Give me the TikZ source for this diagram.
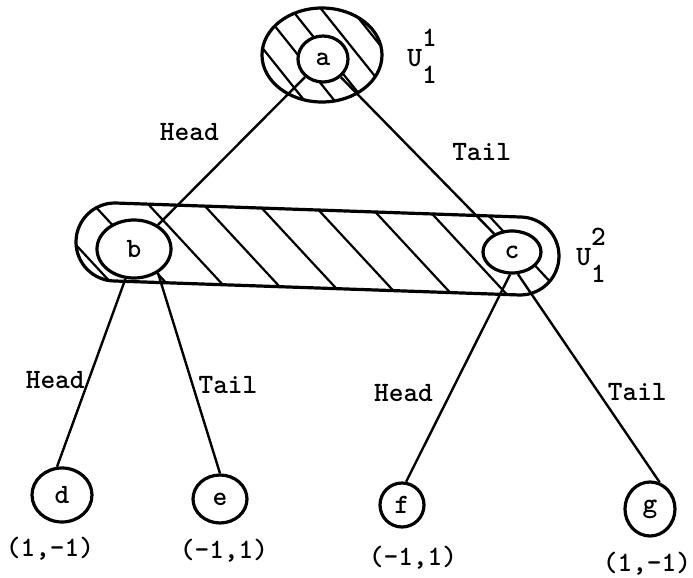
\documentclass[tikz,border=0pt]{standalone}
\usepackage{tikz}
\usetikzlibrary{shapes.geometric,positioning}
\newcommand{\usym}[2]{U\rlap{\raisebox{0.72em}{#1}}\raisebox{-0.6em}{#2}}
\newcommand{\bandshape}{(115,203) -- (520,217) arc[start angle=90, end angle=-90, radius=19.5pt] -- (115,281) arc[start angle=270, end angle=90, radius=19.5pt] -- cycle}
\begin{document}
\begin{tikzpicture}[
  x=0.5pt, y=-0.5pt,
  font=\ttfamily\bfseries\fontsize{14}{16}\selectfont,
  vtx/.style={ellipse, draw, line width=1.6pt, fill=white, inner sep=0pt},
  grp/.style={line width=1.6pt},
  hatch/.style={line width=1.1pt},
  link/.style={line width=1.2pt}
]
\useasboundingbox (0,0) rectangle (693,578);
% hatched set around a
\begin{scope}
  \clip (322,55) ellipse [x radius=30pt, y radius=23.5pt];
  \foreach \x in {238,268,...,438} \draw[hatch] (\x-56,-15) -- (\x+56,125);
\end{scope}
\draw[grp] (322,55) ellipse [x radius=30pt, y radius=23.5pt];
% hatched band around b and c
\begin{scope}
  \clip \bandshape;
  \foreach \x in {25,80,...,465} \draw[hatch] (\x,190) -- ++(102,110);
\end{scope}
\draw[grp] \bandshape;
% vertices
\node[vtx, minimum width=25pt, minimum height=23pt] (a) at (323,59) {a};
\node[vtx, minimum width=37pt, minimum height=29pt] (b) at (134,249) {b};
\node[vtx, minimum width=29pt, minimum height=21pt] (c) at (512,252) {c};
\node[vtx, minimum width=30pt, minimum height=27pt] (d) at (62,495) {d};
\node[vtx, minimum width=27pt, minimum height=24pt] (e) at (220,499) {e};
\node[vtx, minimum width=22pt, minimum height=22pt] (f) at (402,505) {f};
\node[vtx, minimum width=25pt, minimum height=27pt] (g) at (650,509) {g};
% information sets
\node (u1) at (422,56) {\usym{1}{1}};
\node (u2) at (591,255) {\usym{2}{1}};
% moves
\draw[link] (a) -- node[pos=0.37, left=12pt] {Head} (b);
\draw[link] (a) -- node[pos=0.48, right=15pt] {Tail} (c);
\draw[link] (b.254) -- node[pos=0.54, left=-2pt] {Head} (d.100);
\draw[link] (b.315) -- node[pos=0.56, right=-1pt] {Tail} (e.90);
\draw[link] (c.265) -- node[pos=0.57, left=5pt] {Head} (f.80);
\draw[link] (c.285) -- node[pos=0.565, right=1pt] {Tail} (g.70);
% payoffs
\node[below=3.3pt of d, xshift=-6pt] (pd) {(1,-1)};
\node[below=3.8pt of e, xshift=2pt] (pe) {(-1,1)};
\node[below=5.3pt of f, xshift=5.5pt] (pf) {(-1,1)};
\node[below=3.8pt of g, xshift=-1.5pt] (pg) {(1,-1)};
\end{tikzpicture}
\end{document}
